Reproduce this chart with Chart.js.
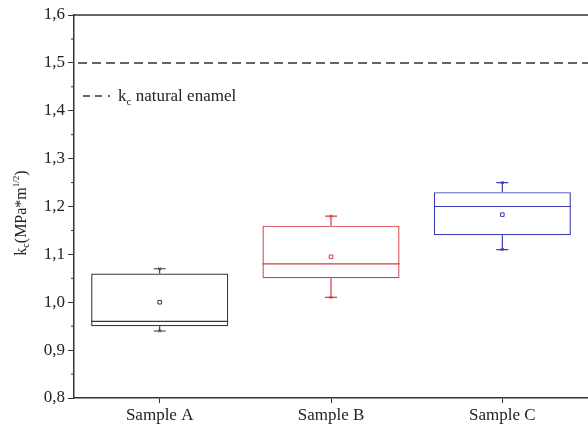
<!DOCTYPE html>
<html>
<head>
<meta charset="utf-8">
<script src="https://cdn.jsdelivr.net/npm/chart.js@4"></script>
<style>
html, body { margin: 0; padding: 0; background: #fff; }
#wrap { width: 588px; height: 431px; }
</style>
</head>
<body>
<div id="wrap"><canvas id="chart" width="588" height="431"></canvas></div>
<script>
// box chart data
const samples = ['Sample A', 'Sample B', 'Sample C'];
const q1 = [0.95, 1.05, 1.14];
const q3 = [1.06, 1.16, 1.23];
const medians = [0.96, 1.08, 1.20];
const means = [1.0, 1.095, 1.183];
const mins = [0.94, 1.01, 1.11];
const maxs = [1.07, 1.18, 1.25];
const enamel = 1.5;
const yTicks = { min: 0.8, max: 1.6, step: 0.1 };

const colors = ['#3a3a3a', '#d8393f', '#3b3bb3'];
const axisColor = '#333';
const serif = '"Liberation Serif", "Times New Roman", serif';

// whiskers, medians, reference line, minor ticks and the legend
const boxExtras = {
    id: 'boxExtras',
    afterDatasetsDraw(chart) {
        const { ctx, chartArea, scales: { y } } = chart;
        const boxes = chart.getDatasetMeta(0).data;
        ctx.save();

        boxes.forEach((bar, i) => {
            const cx = bar.x;
            const half = bar.width / 2;
            ctx.strokeStyle = colors[i];
            ctx.lineWidth = 1.2;

            // median line
            ctx.beginPath();
            ctx.moveTo(cx - half, y.getPixelForValue(medians[i]));
            ctx.lineTo(cx + half, y.getPixelForValue(medians[i]));
            ctx.stroke();

            // whiskers and caps
            [[q3[i], maxs[i]], [q1[i], mins[i]]].forEach(([from, to]) => {
                const ty = y.getPixelForValue(to);
                ctx.beginPath();
                ctx.moveTo(cx, y.getPixelForValue(from));
                ctx.lineTo(cx, ty);
                ctx.moveTo(cx - 6, ty);
                ctx.lineTo(cx + 6, ty);
                ctx.stroke();
            });
        });

        // natural enamel reference line
        const ry = y.getPixelForValue(enamel);
        ctx.strokeStyle = axisColor;
        ctx.lineWidth = 1.5;
        ctx.setLineDash([9, 5]);
        ctx.beginPath();
        ctx.moveTo(chartArea.left + 4, ry);
        ctx.lineTo(chartArea.right, ry);
        ctx.stroke();

        // legend sample: dash, dash, dot
        ctx.setLineDash([7, 5, 7, 6, 2, 30]);
        ctx.beginPath();
        ctx.moveTo(83, 96);
        ctx.lineTo(116, 96);
        ctx.stroke();
        ctx.setLineDash([]);
        ctx.fillStyle = '#222';
        ctx.textBaseline = 'alphabetic';
        ctx.font = '17px ' + serif;
        ctx.fillText('k', 118, 101);
        let lx = 118 + ctx.measureText('k').width;
        ctx.font = '11px ' + serif;
        ctx.fillText('c', lx, 105);
        lx += ctx.measureText('c').width;
        ctx.font = '17px ' + serif;
        ctx.fillText(' natural enamel', lx, 101);

        // frame top line
        ctx.strokeStyle = axisColor;
        ctx.lineWidth = 1.5;
        ctx.beginPath();
        ctx.moveTo(chartArea.left, chartArea.top);
        ctx.lineTo(chartArea.right, chartArea.top);
        ctx.stroke();

        // minor y ticks
        ctx.lineWidth = 1;
        for (let v = yTicks.min + yTicks.step / 2; v < yTicks.max; v += yTicks.step) {
            const ty = y.getPixelForValue(v);
            ctx.beginPath();
            ctx.moveTo(chartArea.left - 3, ty);
            ctx.lineTo(chartArea.left, ty);
            ctx.stroke();
        }

        // y axis title with subscript and superscript
        const parts = [
            ['k', 16, 0], ['c', 10, 3], ['(MPa*m', 16, 0], ['1/2', 9, -7], [')', 16, 0]
        ];
        let total = 0;
        parts.forEach(([t, s]) => {
            ctx.font = s + 'px ' + serif;
            total += ctx.measureText(t).width;
        });
        ctx.translate(21, 213);
        ctx.rotate(-Math.PI / 2);
        let px = -total / 2;
        parts.forEach(([t, s, dy]) => {
            ctx.font = s + 'px ' + serif;
            ctx.fillText(t, px, 5 + dy);
            px += ctx.measureText(t).width;
        });

        ctx.restore();
    }
};

new Chart(document.getElementById('chart'), {
    data: {
        labels: samples,
        datasets: [
            {
                type: 'bar',
                data: q1.map((v, i) => [v, q3[i]]),
                backgroundColor: 'rgba(0,0,0,0)',
                borderColor: colors,
                borderWidth: 1.2,
                borderSkipped: false,
                barPercentage: 0.8,
                categoryPercentage: 1,
                grouped: false
            },
            {
                type: 'line',
                data: means,
                showLine: false,
                pointStyle: 'rect',
                pointRadius: 2.5,
                borderWidth: 1,
                pointBorderColor: colors,
                pointBackgroundColor: '#fff'
            },
            {
                type: 'line',
                data: maxs,
                showLine: false,
                pointStyle: 'crossRot',
                pointRadius: 2,
                borderWidth: 1,
                pointBorderColor: colors
            },
            {
                type: 'line',
                data: mins,
                showLine: false,
                pointStyle: 'crossRot',
                pointRadius: 2,
                borderWidth: 1,
                pointBorderColor: colors
            }
        ]
    },
    options: {
        responsive: false,
        animation: false,
        layout: { padding: { top: 15, right: 0, left: 0, bottom: 0 }, autoPadding: false },
        plugins: {
            legend: { display: false },
            tooltip: { enabled: false }
        },
        scales: {
            x: {
                type: 'category',
                offset: true,
                grid: { drawOnChartArea: false, tickLength: 5, color: axisColor, offset: false },
                border: { color: axisColor, width: 1.5 },
                ticks: { color: '#222', font: { family: serif, size: 17 }, padding: 2 },
                afterFit: (scale) => {
                    scale.height = 33;
                    scale.paddingLeft = 0;
                    scale.paddingRight = 0;
                }
            },
            y: {
                min: yTicks.min,
                max: yTicks.max,
                grid: { drawOnChartArea: false, tickLength: 6, color: axisColor },
                border: { color: axisColor, width: 1.5 },
                ticks: {
                    stepSize: yTicks.step,
                    color: '#222',
                    font: { family: serif, size: 17 },
                    padding: 3,
                    callback: (v) => v.toFixed(1).replace('.', ',')
                },
                afterFit: (scale) => { scale.width = 74; }
            }
        }
    },
    plugins: [boxExtras]
});
</script>
</body>
</html>
